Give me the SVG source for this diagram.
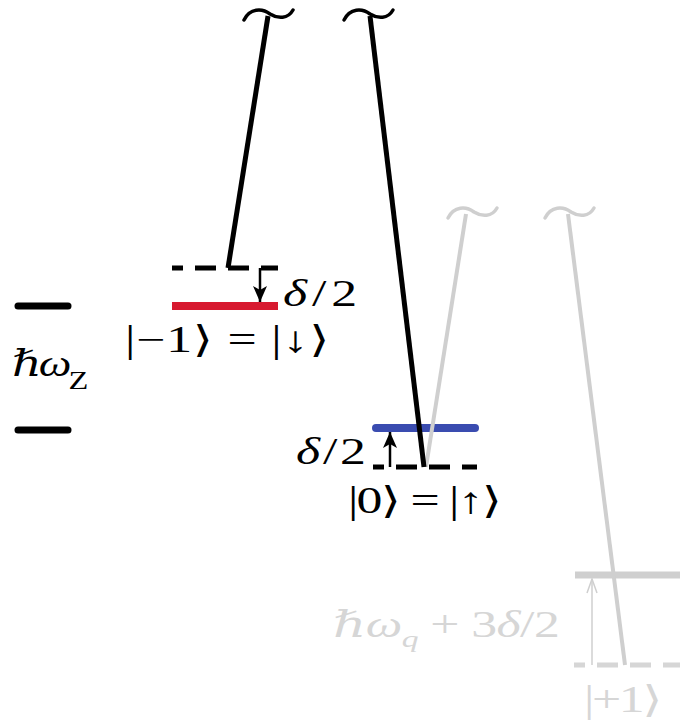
<svg xmlns="http://www.w3.org/2000/svg" width="680" height="724" viewBox="0 0 680 724">
<style>
.t{font-family:"Liberation Serif","DejaVu Serif",serif;font-size:37px;fill:#000}
.g{fill:#d6d6d6}
.i{font-style:italic}
.blk{stroke:#000;stroke-width:5;fill:none}
.gry{stroke:#cfcfcf;stroke-width:4;fill:none}
.til{stroke-width:3.5;fill:none;stroke-linecap:round}
.dash{stroke-width:5;stroke-dasharray:21 12;stroke-dashoffset:10;fill:none}
</style>
<defs>
<marker id="ah" viewBox="0 0 16 14" refX="16" refY="7" markerWidth="16" markerHeight="14" markerUnits="userSpaceOnUse" orient="auto">
<path d="M0,0 L16,7 L0,14 L4,7 Z" fill="#000"/>
</marker>
<marker id="ahg" viewBox="0 0 16 12" refX="15" refY="6" markerWidth="16" markerHeight="12" markerUnits="userSpaceOnUse" orient="auto">
<path d="M1,1 L15,6 L1,11" fill="none" stroke="#cfcfcf" stroke-width="1.5"/>
</marker>
</defs>
<g id="zeeman">
<line x1="18" y1="306" x2="68" y2="306" stroke="#000" stroke-width="7" stroke-linecap="round"/>
<line x1="18" y1="430" x2="68" y2="430" stroke="#000" stroke-width="7" stroke-linecap="round"/>
<text class="t" transform="translate(12,376) scale(1.25,1)" textLength="61" lengthAdjust="spacing"><tspan class="i">ℏω</tspan><tspan font-size="26" dy="13">Z</tspan></text>
</g>
<g id="level-minus1">
<line x1="172" y1="268" x2="278" y2="268" stroke="#000" class="dash"/>
<line x1="172" y1="306" x2="278" y2="306" stroke="#d7192f" stroke-width="8"/>
<text class="t" font-size="38" transform="translate(283,306) scale(1.4,1)" textLength="53" lengthAdjust="spacing"><tspan class="i">δ</tspan>/2</text>
<text class="t" transform="translate(125,352) scale(1.4,1)" textLength="146" lengthAdjust="spacing">|−1⟩ = |↓⟩</text>
</g>
<g id="level-0">
<line x1="373" y1="467" x2="477" y2="467" stroke="#000" class="dash"/>
<line x1="376" y1="428" x2="475" y2="428" stroke="#3a4cb0" stroke-width="8" stroke-linecap="round"/>
<text class="t" font-size="38" transform="translate(296,464) scale(1.4,1)" textLength="50" lengthAdjust="spacing"><tspan class="i">δ</tspan>/2</text>
<text class="t" transform="translate(348,513) scale(1.4,1)" textLength="110" lengthAdjust="spacing">|0⟩ = |↑⟩</text>
</g>
<g id="level-plus1">
<line x1="574" y1="665" x2="680" y2="665" stroke="#d6d6d6" class="dash"/>
<line x1="575" y1="575" x2="680" y2="575" stroke="#cfcfcf" stroke-width="7"/>
<text class="t g" transform="translate(333,637) scale(1.4,1)" textLength="162" lengthAdjust="spacing"><tspan class="i">ℏω</tspan><tspan font-size="24" dy="10" class="i">q</tspan><tspan dy="-10"> + 3</tspan><tspan class="i">δ</tspan>/2</text>
<text class="t g" transform="translate(584,712) scale(1.4,1)" textLength="56" lengthAdjust="spacing">|+1⟩</text>
</g>
<g id="connectors">
<path class="til" stroke="#000" d="M244,20 C250,8 262,8 270,14 C278,19 288,19 293,10"/>
<path class="til" stroke="#000" d="M344,20 C350,8 362,8 370,14 C378,19 388,19 393,10"/>
<path class="til" stroke="#cfcfcf" d="M448,218 C454,206 466,206 474,212 C482,217 492,217 497,208"/>
<path class="til" stroke="#cfcfcf" d="M545,218 C551,206 563,206 571,212 C579,217 589,217 594,208"/>
<line class="gry" x1="466" y1="214" x2="426" y2="467"/>
<line class="gry" x1="568" y1="214" x2="625" y2="665"/>
<line class="blk" x1="268" y1="16" x2="228" y2="268"/>
<line class="blk" x1="370" y1="16" x2="424" y2="467"/>
<line x1="260" y1="268" x2="260" y2="302" stroke="#000" stroke-width="2.5" marker-end="url(#ah)"/>
<line x1="390" y1="467" x2="390" y2="432" stroke="#000" stroke-width="2.5" marker-end="url(#ah)"/>
<line x1="592" y1="665" x2="592" y2="579" stroke="#cfcfcf" stroke-width="1.5" marker-end="url(#ahg)"/>
</g>
</svg>
